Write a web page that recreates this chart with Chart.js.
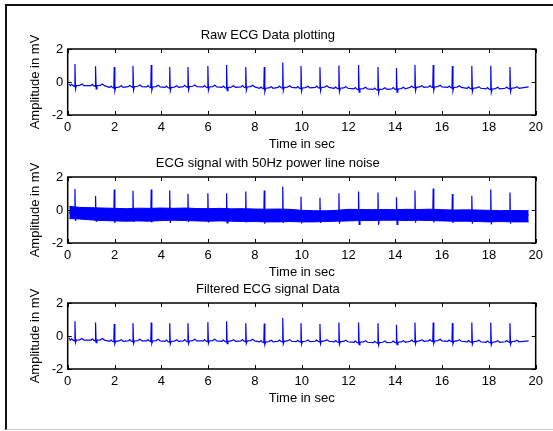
<!DOCTYPE html>
<html>
<head>
<meta charset="utf-8">
<script src="https://cdn.jsdelivr.net/npm/chart.js@4.4.0/dist/chart.umd.min.js"></script>
<style>
  body { margin: 0; background: #fff; }
  #page { position: relative; width: 553px; height: 431px; overflow: hidden; background: #fff; }
  #frame { position: absolute; left: 5px; top: 4px; width: 600px; height: 423px;
           border-top: 2px solid #111; border-left: 2px solid #111; border-bottom: 1px solid #c8c8c8; }
  canvas { position: absolute; left: 0; }
</style>
</head>
<body>
<div id="page">
  <div id="frame"></div>
  <canvas id="rawChart" width="553" height="133" style="top:20px"></canvas>
  <canvas id="noiseChart" width="553" height="133" style="top:148px"></canvas>
  <canvas id="filtChart" width="553" height="133" style="top:274px"></canvas>
</div>
<script>
// R-peak times (sec)
const beatTimes = [0.31, 1.19, 1.99, 2.79, 3.57, 4.36, 5.14, 5.99, 6.79, 7.61, 8.4, 9.19,
                   9.97, 10.78, 11.59, 12.43, 13.26, 14.05, 14.84, 15.62, 16.44, 17.27, 18.08, 18.9];

// R-peak heights (mV) for each plot
const rawPeaks = [1.09, 0.95, 0.91, 0.99, 1.03, 0.91, 0.91, 0.97, 1.03, 0.91, 0.91, 1.18,
                  0.97, 0.89, 1.0, 1.03, 0.91, 0.85, 1.03, 1.03, 0.97, 0.97, 0.99, 0.91];
const noisyPeaks = [1.28, 0.85, 1.24, 1.16, 1.24, 1.18, 0.99, 1.01, 1.01, 1.12, 1.18, 1.43,
                    0.81, 0.75, 1.01, 1.12, 1.06, 0.77, 1.18, 1.3, 0.97, 0.87, 1.24, 1.06];
const filtPeaks = [0.9, 0.82, 0.72, 0.78, 0.82, 0.78, 0.78, 0.84, 0.9, 0.78, 0.76, 1.09,
                   0.78, 0.72, 0.82, 0.82, 0.78, 0.68, 0.82, 0.82, 0.78, 0.82, 0.82, 0.78];

// baseline level around each beat (mV)
const rawBase = [-0.22, -0.22, -0.33, -0.28, -0.3, -0.33, -0.28, -0.3, -0.33, -0.3, -0.38, -0.33,
                 -0.36, -0.33, -0.38, -0.42, -0.45, -0.42, -0.32, -0.3, -0.33, -0.38, -0.42, -0.38];
const filtBase = [-0.25, -0.25, -0.32, -0.3, -0.3, -0.33, -0.3, -0.3, -0.32, -0.3, -0.36, -0.32,
                  -0.34, -0.32, -0.35, -0.38, -0.4, -0.38, -0.32, -0.3, -0.32, -0.35, -0.38, -0.35];

// S-wave dip below baseline (mV)
const rawDip = 0.2;
const noisyDip = 0.45;
const filtDip = 0.15;

// first and last samples of the recording
const signalStart = [0.07, -0.12];
const signalEnd = [19.7, -0.3];

// 50 Hz noise band envelope in the middle plot
const noiseTimes = [0.07, 0.5, 1, 1.5, 2, 2.5, 3, 3.5, 4, 4.5, 5, 5.5, 6, 6.5, 7, 7.5, 8, 8.5, 9, 9.5,
                    10, 10.5, 11, 11.5, 12, 12.5, 13, 13.5, 14, 14.5, 15, 15.5, 16, 16.5, 17, 17.5, 18, 18.5, 19, 19.7];
const noiseTop = [0.22, 0.16, 0.14, 0.12, 0.1, 0.08, 0.11, 0.1, 0.12, 0.1, 0.12, 0.09, 0.08, 0.1, 0.07, 0.08, 0.06, 0.05, 0.06, 0.04,
                  -0.02, -0.04, -0.05, -0.02, 0.04, 0.03, 0.02, 0.03, 0.02, 0.04, 0.03, 0.05, 0.02, 0.0, 0.01, 0.0, -0.02, -0.04, -0.03, -0.04];
const noiseBottom = [-0.52, -0.55, -0.6, -0.64, -0.66, -0.68, -0.66, -0.68, -0.64, -0.62, -0.64, -0.66, -0.68, -0.66, -0.68, -0.7, -0.7, -0.72, -0.72, -0.7,
                     -0.72, -0.72, -0.7, -0.68, -0.66, -0.64, -0.64, -0.62, -0.62, -0.64, -0.62, -0.64, -0.66, -0.68, -0.68, -0.7, -0.72, -0.7, -0.72, -0.72];

const xTicksMin = 0, xTicksMax = 20, xStep = 2;
const yTicksMin = -2, yTicksMax = 2, yStep = 2;

// one beat: [time offset, level above baseline]; 'R' = peak, 'S' = dip
const beatShape = [[-0.2, 0], [-0.14, 0.08], [-0.08, 0], [-0.02, -0.04], [0, 'R'], [0.025, 'S'],
                   [0.06, 0], [0.2, 0.02], [0.3, 0.1], [0.38, 0]];

function buildEcg(peaks, bases, dip) {
    const pts = [{ x: signalStart[0], y: signalStart[1] }];
    beatTimes.forEach((t, i) => {
        beatShape.forEach(([dt, v]) => {
            const x = t + dt;
            if (x <= signalStart[0]) return;
            let y = bases[i] + v;
            if (v === 'R') y = peaks[i];
            if (v === 'S') y = bases[i] - dip;
            pts.push({ x, y });
        });
    });
    pts.push({ x: signalEnd[0], y: signalEnd[1] });
    return pts;
}

const FONT = { family: "'Liberation Sans', Arial, sans-serif", size: 13, weight: 'normal' };
const BLUE = '#0000ff';

// MATLAB style box with inward ticks
const axesBox = {
    id: 'axesBox',
    afterDraw(chart) {
        const { ctx, chartArea: a, scales: { x, y } } = chart;
        ctx.save();
        ctx.strokeStyle = '#000';
        ctx.lineWidth = 1;
        ctx.beginPath();
        x.ticks.forEach(t => {
            const px = Math.round(x.getPixelForValue(t.value)) + 0.5;
            ctx.moveTo(px, a.bottom); ctx.lineTo(px, a.bottom - 4);
            ctx.moveTo(px, a.top); ctx.lineTo(px, a.top + 4);
        });
        y.ticks.forEach(t => {
            const py = Math.round(y.getPixelForValue(t.value)) + 0.5;
            ctx.moveTo(a.left, py); ctx.lineTo(a.left + 4, py);
            ctx.moveTo(a.right, py); ctx.lineTo(a.right - 4, py);
        });
        ctx.stroke();
        ctx.lineWidth = 1.5;
        ctx.strokeRect(a.left, a.top, a.width, a.height);
        ctx.restore();
    }
};

function lineSet(data) {
    return { data, borderColor: BLUE, borderWidth: 1.2, pointRadius: 0, tension: 0, fill: false };
}

function makeChart(id, title, datasets) {
    return new Chart(document.getElementById(id), {
        type: 'line',
        data: { datasets },
        options: {
            responsive: false,
            animation: false,
            events: [],
            layout: { padding: { left: 0, right: 17.3, top: 0, bottom: 0 } },
            plugins: {
                legend: { display: false },
                tooltip: { enabled: false },
                title: { display: true, text: title, color: '#000', font: FONT, padding: { top: 7.4, bottom: 6 } }
            },
            scales: {
                x: {
                    type: 'linear', min: xTicksMin, max: xTicksMax,
                    grid: { display: false, drawTicks: false, tickLength: 0 },
                    border: { display: false },
                    ticks: { stepSize: xStep, color: '#000', font: FONT, padding: 5, maxRotation: 0, autoSkip: false },
                    title: { display: true, text: 'Time in sec', color: '#000', font: FONT, padding: { top: 0, bottom: 0.8 } },
                    afterFit: s => { s.height = 38; }
                },
                y: {
                    type: 'linear', min: yTicksMin, max: yTicksMax,
                    grid: { display: false, drawTicks: false, tickLength: 0 },
                    border: { display: false },
                    ticks: { stepSize: yStep, color: '#000', font: FONT, padding: 4.4 },
                    title: { display: true, text: 'Amplitude in mV', color: '#000', font: FONT, padding: { top: 27.9, bottom: 0 } },
                    afterFit: s => { s.width = 67.7; }
                }
            }
        },
        plugins: [axesBox]
    });
}

makeChart('rawChart', 'Raw ECG Data plotting', [lineSet(buildEcg(rawPeaks, rawBase, rawDip))]);

makeChart('noiseChart', 'ECG signal with 50Hz power line noise', [
    lineSet(buildEcg(noisyPeaks, rawBase, noisyDip)),
    { data: noiseTimes.map((t, i) => ({ x: t, y: noiseTop[i] })), borderColor: BLUE, borderWidth: 1, pointRadius: 0, fill: false },
    { data: noiseTimes.map((t, i) => ({ x: t, y: noiseBottom[i] })), borderColor: BLUE, borderWidth: 1, pointRadius: 0,
      fill: '-1', backgroundColor: BLUE }
]);

makeChart('filtChart', 'Filtered ECG signal Data', [lineSet(buildEcg(filtPeaks, filtBase, filtDip))]);
</script>
</body>
</html>
